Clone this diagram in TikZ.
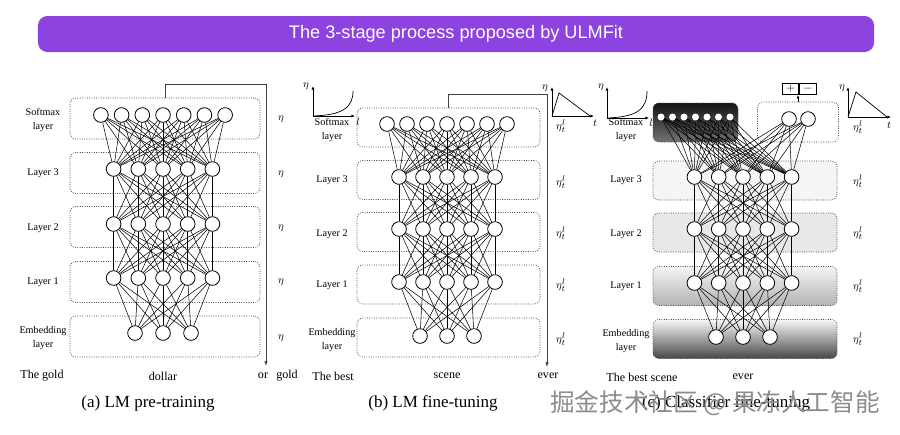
\documentclass[tikz,border=0pt]{standalone}
\usepackage{fontspec}
\setmainfont{Liberation Serif}
\newfontfamily\titlefont{Liberation Sans}
\newfontfamily\cjkfont{Noto Sans CJK SC}
\usetikzlibrary{arrows.meta, calc, positioning}
\definecolor{ulmpurple}{RGB}{140, 67, 224}

\begin{document}
\begin{tikzpicture}[x=0.03cm, y=-0.03cm,
		neuron/.style={circle, draw, line width=0.7pt, fill=white, minimum size=0.44cm, inner sep=0pt},
		tinyneuron/.style={circle, fill=white, minimum size=0.21cm, inner sep=0pt},
		layerbox/.style={draw=black!70, dash pattern=on 0.8pt off 1.2pt, line width=0.6pt,
			rounded corners=5pt, minimum height=1.17cm, inner sep=0pt},
		link/.style={line width=0.45pt, black},
		bracket/.style={-{Latex[length=4pt, width=3pt]}, line width=0.7pt, black!75},
		plotax/.style={-{Latex[length=3pt, width=2.5pt]}, line width=0.6pt},
		lbl/.style={align=center, font=\fontsize{8.7}{12}\selectfont},
		rate/.style={font=\fontsize{9.5}{9.5}\selectfont},
		word/.style={font=\fontsize{10.3}{12}\selectfont},
		caption/.style={font=\fontsize{14.5}{16}\selectfont}]
	\useasboundingbox (0,0) rectangle (900,434);
	%--- Title bar ---
	\node[fill=ulmpurple, rounded corners=8pt, minimum width=25.08cm, minimum height=1.08cm,
	text=white, font=\titlefont\fontsize{15.5}{18}\selectfont] (title) at (456,34)
	{The 3-stage process proposed by ULMFit};
	%--- Panel (a): LM pre-training ---
	\begin{scope}
		\foreach \r/\y in {1/336.5, 2/282, 3/227, 4/173, 5/118.5}
		\node[layerbox, minimum width=5.7cm, minimum height=1.23cm] (a-box\r) at (165,\y) {};
		\foreach \i in {1,...,7}
		\node[neuron] (a-s\i) at ({163+(\i-4)*20.7},115) {};
		\foreach \i in {1,...,5} {
			\node[neuron] (a-h3\i) at ({163+(\i-3)*24.7},169) {};
			\node[neuron] (a-h2\i) at ({163+(\i-3)*24.7},224) {};
			\node[neuron] (a-h1\i) at ({163+(\i-3)*24.7},278) {};
		}
		\foreach \i in {1,2,3}
		\node[neuron] (a-e\i) at ({163+(\i-2)*28},333) {};
		\foreach \i in {1,...,5} {
			\foreach \j in {1,...,7} \draw[link] (a-h3\i) -- (a-s\j);
			\foreach \j in {1,...,5} {
				\draw[link] (a-h2\i) -- (a-h3\j);
				\draw[link] (a-h1\i) -- (a-h2\j);
			}
			\foreach \j in {1,2,3} \draw[link] (a-e\j) -- (a-h1\i);
		}
		\node[lbl] (a-lab5) at (43,120) {Softmax\\layer};
		\node[lbl] (a-lab4) at (43,173) {Layer 3};
		\node[lbl] (a-lab3) at (43,228) {Layer 2};
		\node[lbl] (a-lab2) at (43,282) {Layer 1};
		\node[lbl] (a-lab1) at (43,338) {Embedding\\layer};
		\foreach \r/\y in {1/338, 2/282, 3/228, 4/174, 5/119}
		\node[rate] (a-eta\r) at (281,\y) {$\eta$};
		% output goes back down to the next word
		\coordinate (a-end) at (266,366);
		\draw[bracket] (a-box5.north) -- ++(0,-13) -| (a-end);
		\node[word] (a-w1) at (42,376) {The gold};
		\node[word] (a-w2) at (163,376) {dollar};
		\node[word] (a-w3) at (263,376) {or};
		\node[word] (a-w4) at (287,376) {gold};
		\node[caption] (a-cap) at (148,403) {(a) LM pre-training};
	\end{scope}
	%--- Panel (b): LM fine-tuning ---
	\begin{scope}
		\foreach \r/\y in {1/337.5, 2/284.5, 3/232, 4/180, 5/127.5}
		\node[layerbox, minimum width=5.49cm] (b-box\r) at (448.5,\y) {};
		\foreach \i in {1,...,7}
		\node[neuron] (b-s\i) at ({447+(\i-4)*20},124) {};
		\foreach \i in {1,...,5} {
			\node[neuron] (b-h3\i) at ({447+(\i-3)*24},177) {};
			\node[neuron] (b-h2\i) at ({447+(\i-3)*24},229) {};
			\node[neuron] (b-h1\i) at ({447+(\i-3)*24},282) {};
		}
		\foreach \i in {1,2,3}
		\node[neuron] (b-e\i) at ({447+(\i-2)*27},336) {};
		\foreach \i in {1,...,5} {
			\foreach \j in {1,...,7} \draw[link] (b-h3\i) -- (b-s\j);
			\foreach \j in {1,...,5} {
				\draw[link] (b-h2\i) -- (b-h3\j);
				\draw[link] (b-h1\i) -- (b-h2\j);
			}
			\foreach \j in {1,2,3} \draw[link] (b-e\j) -- (b-h1\i);
		}
		\node[lbl] (b-lab5) at (332,130) {Softmax\\layer};
		\node[lbl] (b-lab4) at (332,180) {Layer 3};
		\node[lbl] (b-lab3) at (332,234) {Layer 2};
		\node[lbl] (b-lab2) at (332,285) {Layer 1};
		\node[lbl] (b-lab1) at (332,340) {Embedding\\layer};
		\foreach \r/\y in {1/339, 2/285, 3/233, 4/182, 5/126}
		\node[rate] (b-eta\r) at (561,\y) {$\eta_t^l$};
		% discriminative rates per layer
		\draw[plotax] (313,116) -- (313,86);
		\draw[plotax] (313,116) -- (355,116);
		\draw[line width=0.6pt] (313,116) .. controls (342,115) and (353,108) .. (353,91);
		\node[rate] (b-py) at (306,86) {$\eta$};
		\node[rate] (b-px) at (358,122) {$l$};
		% slanted triangular rates
		\draw[plotax] (552,116) -- (552,87);
		\draw[plotax] (552,116) -- (594,116);
		\draw[line width=0.6pt] (552,116) -- (559,93) -- (590,116);
		\node[rate] (b-qy) at (545,88) {$\eta$};
		\node[rate] (b-qx) at (595,123) {$t$};
		\coordinate (b-end) at (547,367);
		\draw[bracket] (b-box5.north) -- ++(0,-13) -| (b-end);
		\node[word] (b-w1) at (333,376) {The best};
		\node[word] (b-w2) at (447,376) {scene};
		\node[word] (b-w3) at (548,376) {ever};
		\node[caption] (b-cap) at (433,403) {(b) LM fine-tuning};
	\end{scope}
	%--- Panel (c): classifier fine-tuning ---
	\begin{scope}
		\node[layerbox, minimum width=5.52cm, fill=black!4] (c-box4) at (745,180.5) {};
		\node[layerbox, minimum width=5.52cm, fill=black!9] (c-box3) at (745,232.5) {};
		\node[layerbox, minimum width=5.52cm, top color=black!4, bottom color=black!30] (c-box2) at (745,286) {};
		\node[layerbox, minimum width=5.52cm, top color=black!3, bottom color=black!72] (c-box1) at (745,339) {};
		\node[layerbox, minimum width=2.55cm, top color=black!92, bottom color=black!55] (c-dark) at (695.5,122.5) {};
		\node[layerbox, minimum width=2.43cm, minimum height=1.2cm] (c-clsbox) at (798,122) {};
		\foreach \i in {1,...,7}
		\node[tinyneuron] (c-t\i) at ({661+(\i-1)*11.5},117) {};
		\node[neuron] (c-k1) at (789,119) {};
		\node[neuron] (c-k2) at (808,119) {};
		\foreach \i in {1,...,5} {
			\node[neuron] (c-h3\i) at ({743+(\i-3)*24.3},177) {};
			\node[neuron] (c-h2\i) at ({743+(\i-3)*24.3},229) {};
			\node[neuron] (c-h1\i) at ({743+(\i-3)*24.3},283) {};
		}
		\foreach \i in {1,2,3}
		\node[neuron] (c-e\i) at ({743+(\i-2)*27},337) {};
		\foreach \i in {1,...,5} {
			\foreach \j in {1,...,7} \draw[link] (c-h3\i) -- (c-t\j);
			\foreach \j in {1,2} \draw[link] (c-h3\i) -- (c-k\j);
			\foreach \j in {1,...,5} {
				\draw[link] (c-h2\i) -- (c-h3\j);
				\draw[link] (c-h1\i) -- (c-h2\j);
			}
			\foreach \j in {1,2,3} \draw[link] (c-e\j) -- (c-h1\i);
		}
		% sentiment output
		\node[draw, line width=0.6pt, minimum width=0.5cm, minimum height=0.33cm, inner sep=0pt] (c-plus) at (790.5,89) {$+$};
		\node[draw, line width=0.6pt, minimum width=0.5cm, minimum height=0.33cm, inner sep=0pt, right=0pt of c-plus] (c-minus) {$-$};
		\draw[-{Latex[length=3pt, width=2.5pt]}, line width=0.6pt] (c-clsbox.north) -- (c-clsbox.north |- c-plus.south);
		\node[lbl] (c-lab5) at (626,130) {Softmax\\layer};
		\node[lbl] (c-lab4) at (626,180) {Layer 3};
		\node[lbl] (c-lab3) at (626,234) {Layer 2};
		\node[lbl] (c-lab2) at (626,286) {Layer 1};
		\node[lbl] (c-lab1) at (626,341) {Embedding\\layer};
		\foreach \r/\y in {1/339, 2/286, 3/233, 4/181, 5/127}
		\node[rate] (c-eta\r) at (858,\y) {$\eta_t^l$};
		\draw[plotax] (607,118) -- (607,87);
		\draw[plotax] (607,118) -- (649,118);
		\draw[line width=0.6pt] (607,118) .. controls (636,117) and (647,110) .. (647,91);
		\node[rate] (c-py) at (601,87) {$\eta$};
		\node[rate] (c-px) at (651,123) {$l$};
		\draw[plotax] (848,117) -- (848,87);
		\draw[plotax] (848,117) -- (891,117);
		\draw[line width=0.6pt] (848,117) -- (856,92) -- (887,117);
		\node[rate] (c-qy) at (842,88) {$\eta$};
		\node[rate] (c-qx) at (889,125) {$t$};
		\node[word] (c-w1) at (642,377) {The best scene};
		\node[word] (c-w2) at (743,377) {ever};
		\node[caption] (c-cap) at (726,403) {(c) Classifier fine-tuning};
	\end{scope}
	\node[text=black!45, font=\cjkfont\fontsize{21}{21}\selectfont] (wmark) at (715,403) {掘金技术社区 @ 果冻人工智能};
\end{tikzpicture}
\end{document}
